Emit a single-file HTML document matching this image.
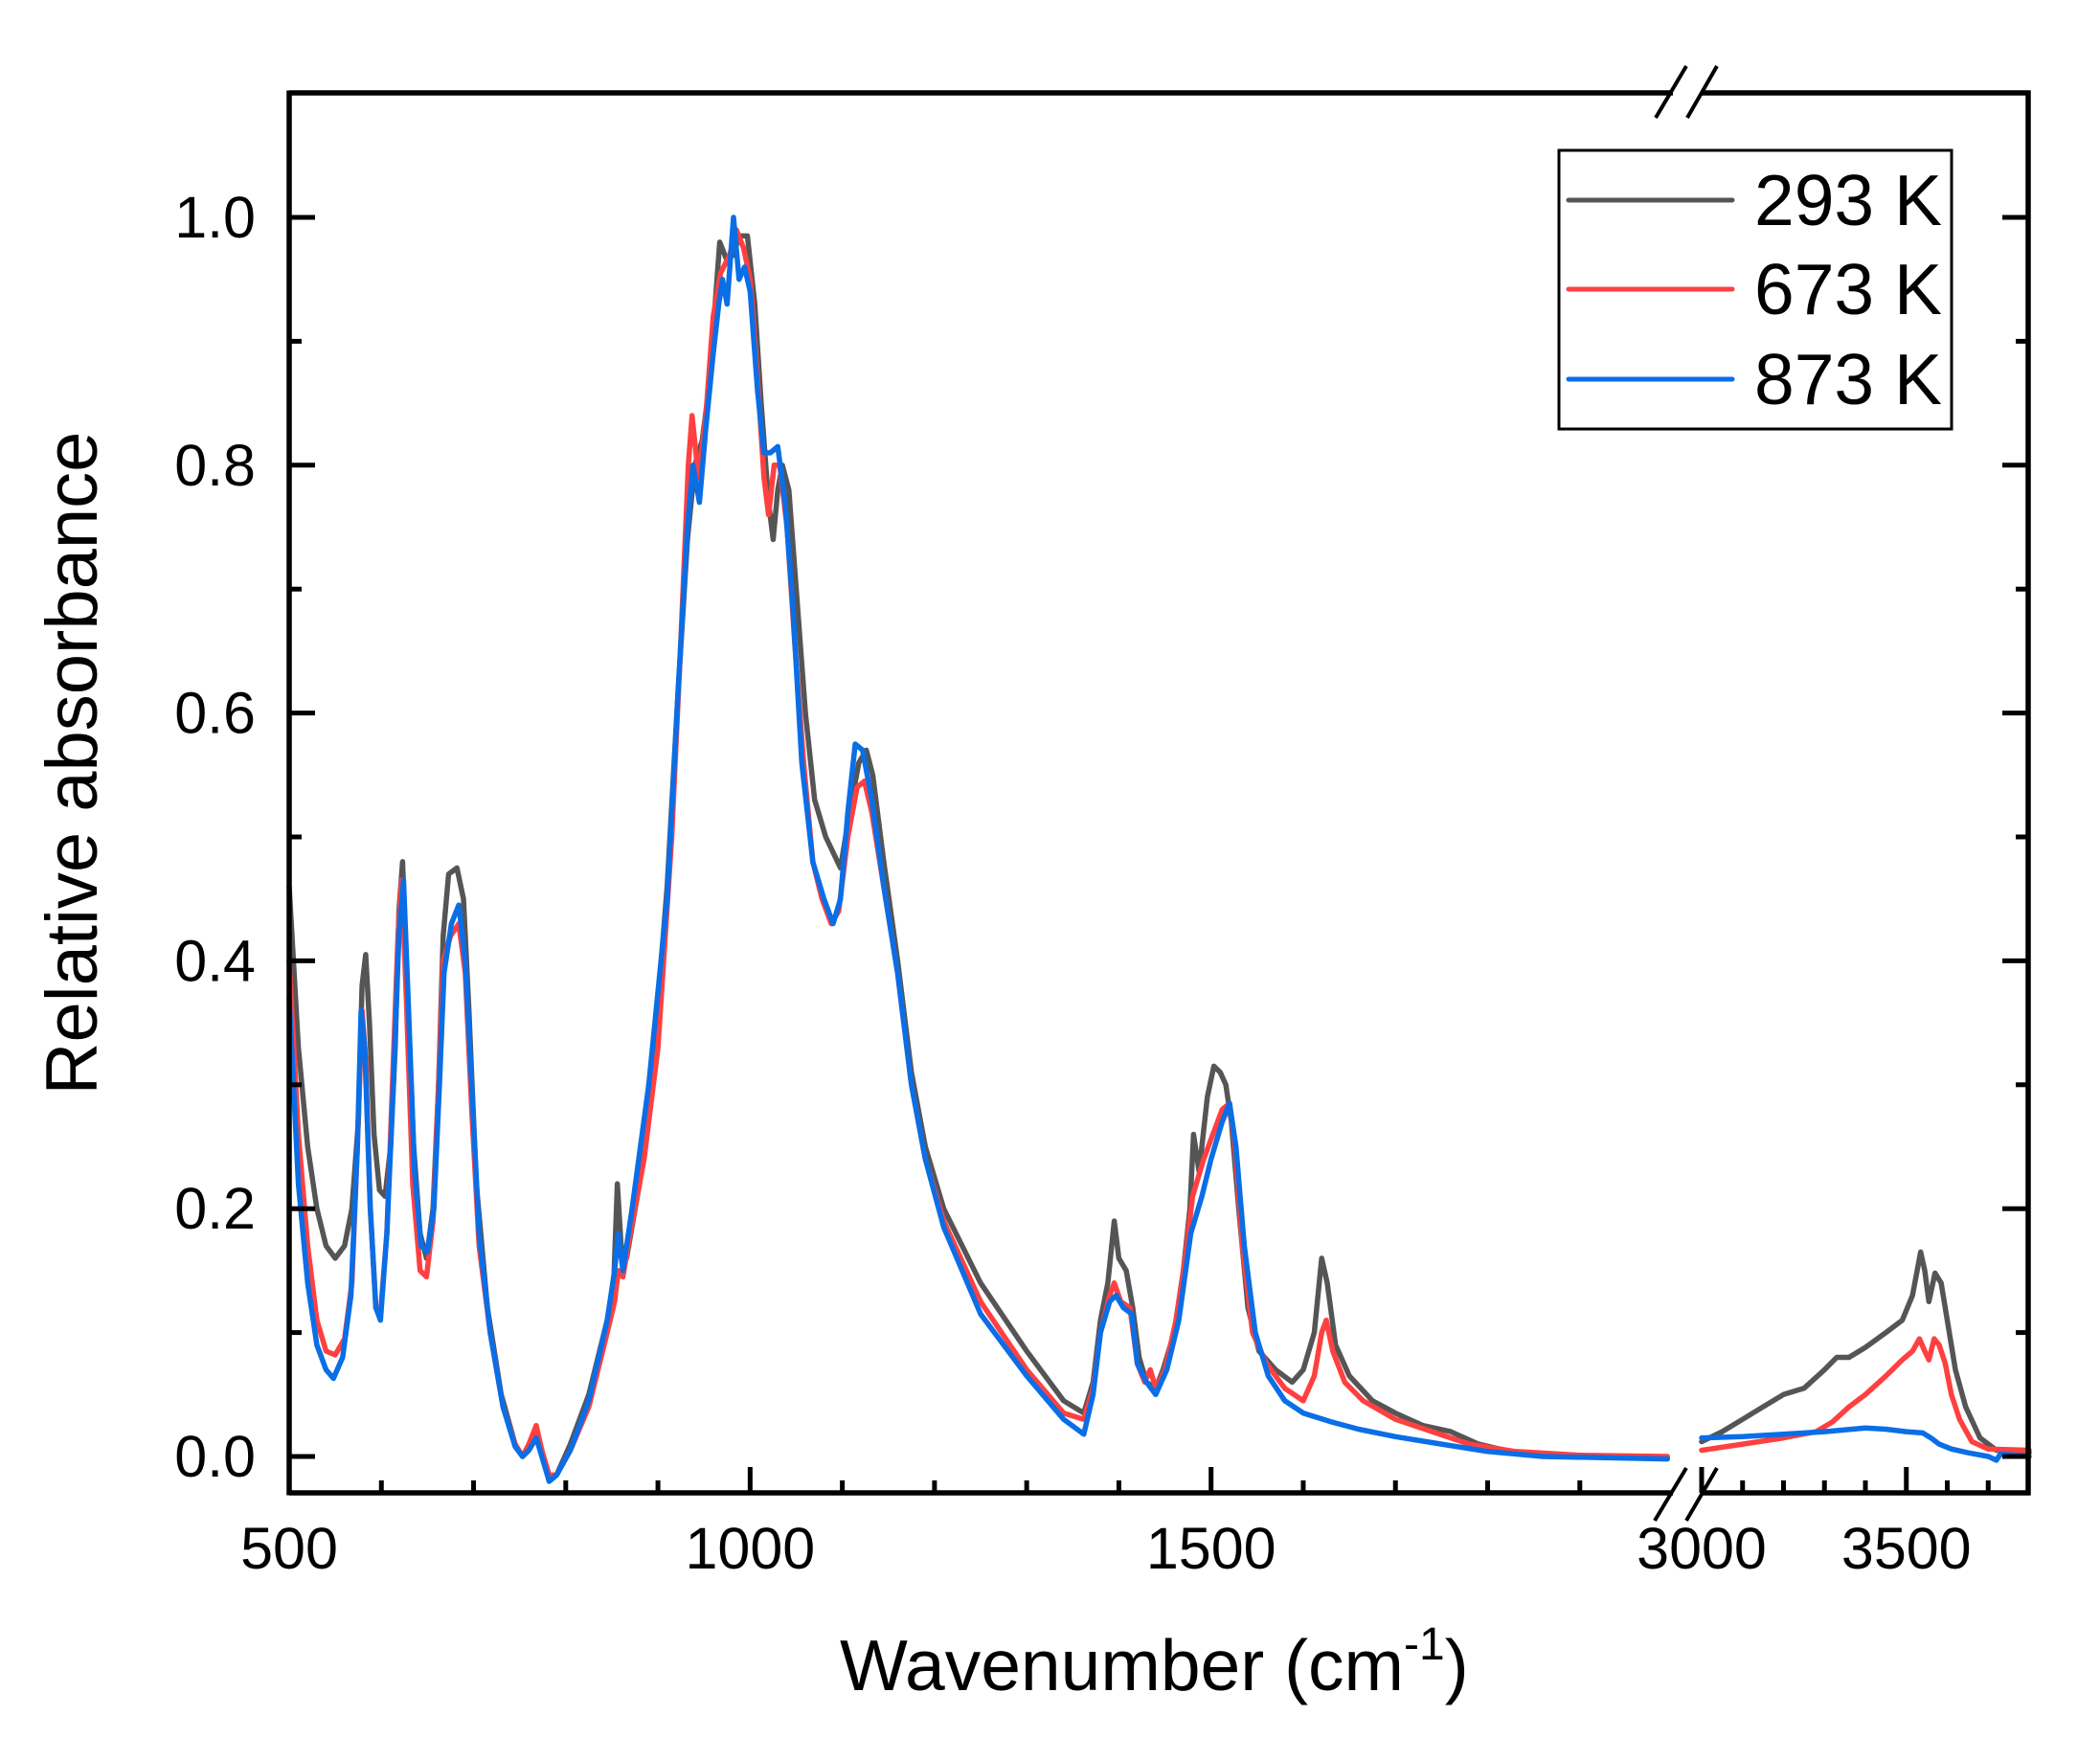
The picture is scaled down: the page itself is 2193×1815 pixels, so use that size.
<!DOCTYPE html>
<html><head><meta charset="utf-8"><style>
html,body{margin:0;padding:0;background:#fff;}
svg{display:block;}
text{font-family:"Liberation Sans",Arial,sans-serif;fill:#000;}
</style></head><body>
<svg id="s" width="2193" height="1815" viewBox="0 0 2193 1815" xmlns="http://www.w3.org/2000/svg">
<rect width="2193" height="1815" fill="#fff"/>
<g id="series" fill="none" stroke-width="5.5" stroke-linejoin="round" stroke-linecap="round"></g>
<g id="axes" stroke="#000" stroke-width="5.5" fill="none"></g>
<g id="labels" font-size="61"></g>
<!-- legend -->
<rect x="1628" y="157" width="410" height="291" fill="#fff" stroke="#000" stroke-width="3"/>
<line x1="1638" y1="209" x2="1809" y2="209" stroke="#555" stroke-width="5" stroke-linecap="round"/>
<line x1="1638" y1="302" x2="1809" y2="302" stroke="#ff4040" stroke-width="5" stroke-linecap="round"/>
<line x1="1638" y1="396" x2="1809" y2="396" stroke="#0a6ee6" stroke-width="5" stroke-linecap="round"/>
<text x="1832" y="235" font-size="75">293 K</text>
<text x="1832" y="328" font-size="75">673 K</text>
<text x="1832" y="422" font-size="75">873 K</text>
<text x="877" y="1765" font-size="75">Wavenumber (cm<tspan font-size="48" dy="-32">-1</tspan><tspan dy="32">)</tspan></text>
<text transform="translate(101,797) rotate(-90)" text-anchor="middle" font-size="76">Relative absorbance</text>
</svg>
<script>
var NS="http://www.w3.org/2000/svg";
function X(w){return w<=2000?302+(w-500)*0.9627:1777+(w-3000)*0.4275;}
function Y(v){return 1521-v*1294;}
function el(p,t,a){var e=document.createElementNS(NS,t);for(var k in a)e.setAttribute(k,a[k]);p.appendChild(e);return e;}
var gray=[[500,.46],[510,.33],[520,.25],[530,.2],[540,.17],[550,.16],[560,.17],[568,.2],[575,.27],[579,.38],[583,.405],[587,.35],[592,.26],[598,.215],[604,.21],[610,.25],[615,.33],[619,.44],[623,.48],[628,.38],[635,.25],[642,.18],[649,.16],[656,.2],[662,.3],[667,.42],[673,.47],[682,.475],[689,.45],[695,.36],[703,.22],[715,.12],[730,.05],[745,.01],[753,0],[760,.005],[768,.02],[774,.005],[782,-.02],[790,-.015],[805,.01],[825,.05],[845,.11],[852,.14],[856,.22],[860,.17],[866,.16],[880,.22],[895,.32],[910,.46],[922,.62],[932,.74],[940,.8],[948,.82],[955,.86],[962,.93],[967,.98],[975,.965],[982,.97],[988,.985],[997,.985],[1005,.93],[1012,.85],[1020,.77],[1025,.74],[1030,.78],[1035,.8],[1042,.78],[1050,.7],[1060,.6],[1070,.53],[1082,.5],[1098,.475],[1108,.52],[1118,.56],[1126,.57],[1133,.55],[1145,.48],[1160,.4],[1175,.31],[1190,.25],[1210,.2],[1250,.14],[1300,.085],[1340,.045],[1362,.035],[1372,.06],[1380,.11],[1388,.14],[1395,.19],[1400,.16],[1408,.15],[1415,.12],[1422,.08],[1430,.06],[1440,.055],[1448,.07],[1460,.1],[1470,.15],[1477,.2],[1481,.26],[1487,.23],[1496,.29],[1503,.315],[1510,.31],[1516,.3],[1522,.27],[1530,.2],[1540,.12],[1552,.085],[1570,.07],[1588,.06],[1600,.07],[1612,.1],[1620,.16],[1626,.14],[1635,.09],[1650,.065],[1675,.045],[1700,.035],[1730,.025],[1760,.02],[1790,.01],[1830,.003],[1900,0],[1995,-.001]];
var grayR=[[3000,.012],[3050,.02],[3100,.03],[3150,.04],[3200,.05],[3250,.055],[3300,.07],[3330,.08],[3360,.08],[3400,.088],[3450,.1],[3490,.11],[3515,.13],[3535,.165],[3545,.15],[3555,.125],[3570,.148],[3585,.14],[3600,.11],[3620,.07],[3645,.04],[3680,.015],[3720,.005],[3800,.003]];
var red=[[500,.4],[510,.26],[520,.17],[530,.11],[540,.085],[550,.082],[560,.095],[568,.14],[574,.25],[579,.36],[583,.32],[588,.2],[594,.12],[599,.115],[606,.18],[613,.32],[618,.42],[622,.465],[627,.37],[634,.22],[642,.15],[649,.145],[656,.19],[662,.3],[667,.4],[675,.42],[684,.43],[691,.39],[698,.28],[706,.17],[718,.1],[732,.04],[745,.01],[753,0],[760,.01],[768,.025],[774,.005],[782,-.015],[790,-.015],[805,.005],[825,.04],[845,.1],[853,.125],[857,.15],[862,.145],[870,.18],[885,.24],[900,.33],[915,.5],[925,.66],[933,.8],[937,.84],[944,.79],[952,.84],[960,.92],[968,.955],[978,.97],[985,.99],[993,.975],[1000,.95],[1008,.87],[1015,.79],[1020,.76],[1026,.8],[1032,.8],[1040,.75],[1048,.66],[1058,.56],[1068,.48],[1078,.45],[1088,.43],[1096,.44],[1106,.5],[1116,.54],[1124,.545],[1132,.52],[1145,.46],[1160,.39],[1175,.3],[1190,.24],[1210,.19],[1250,.125],[1300,.07],[1340,.035],[1362,.03],[1372,.055],[1380,.1],[1390,.13],[1395,.14],[1402,.125],[1412,.12],[1420,.075],[1428,.06],[1434,.07],[1440,.055],[1450,.07],[1462,.11],[1472,.16],[1480,.21],[1492,.24],[1502,.26],[1512,.28],[1520,.285],[1526,.25],[1534,.17],[1545,.1],[1560,.075],[1580,.055],[1600,.045],[1612,.065],[1620,.1],[1625,.11],[1632,.085],[1645,.06],[1665,.045],[1700,.03],[1740,.02],[1780,.01],[1830,.004],[1900,.001],[1995,0]];
var redR=[[3000,.005],[3100,.01],[3200,.015],[3280,.02],[3320,.028],[3360,.04],[3400,.05],[3450,.065],[3490,.078],[3515,.085],[3532,.095],[3545,.085],[3555,.078],[3568,.095],[3580,.09],[3595,.075],[3610,.05],[3630,.03],[3660,.012],[3700,.006],[3800,.005]];
var blue=[[500,.37],[510,.22],[520,.14],[530,.09],[540,.07],[548,.063],[558,.08],[567,.13],[574,.25],[578,.36],[582,.33],[588,.2],[594,.12],[599,.11],[606,.18],[613,.3],[619,.42],[624,.465],[629,.37],[636,.23],[643,.17],[650,.165],[657,.2],[663,.3],[668,.39],[676,.43],[684,.445],[691,.4],[698,.3],[706,.18],[718,.1],[732,.04],[745,.008],[753,0],[760,.005],[768,.015],[774,.0],[782,-.02],[790,-.015],[805,.005],[825,.045],[845,.11],[853,.15],[857,.18],[862,.15],[872,.2],[890,.3],[910,.45],[922,.62],[932,.75],[938,.8],[945,.77],[952,.83],[960,.89],[966,.93],[970,.95],[975,.93],[982,1.0],[988,.95],[994,.96],[1000,.94],[1008,.86],[1015,.81],[1022,.81],[1030,.815],[1038,.77],[1046,.69],[1056,.56],[1068,.48],[1080,.45],[1090,.43],[1098,.45],[1106,.52],[1114,.575],[1122,.57],[1132,.53],[1145,.46],[1160,.39],[1175,.3],[1190,.24],[1210,.185],[1250,.115],[1300,.065],[1340,.03],[1362,.018],[1372,.05],[1380,.1],[1390,.125],[1397,.13],[1405,.12],[1414,.115],[1420,.075],[1430,.06],[1440,.05],[1452,.07],[1465,.11],[1478,.18],[1490,.21],[1500,.24],[1512,.27],[1520,.285],[1527,.25],[1536,.17],[1548,.1],[1562,.065],[1580,.045],[1600,.035],[1630,.028],[1660,.022],[1700,.016],[1750,.01],[1800,.004],[1860,.0],[1995,-.002]];
var blueR=[[3000,.015],[3100,.016],[3200,.018],[3300,.02],[3400,.023],[3450,.022],[3500,.02],[3540,.019],[3560,.015],[3580,.01],[3610,.006],[3650,.003],[3700,.0],[3720,-.003],[3730,.002],[3800,0]];
function pts(a){var s="";for(var i=0;i<a.length;i++){s+=X(a[i][0]).toFixed(1)+","+Y(a[i][1]).toFixed(1)+" ";}return s;}
var g=document.getElementById("series");
[[gray,grayR,"#555555"],[red,redR,"#ff4040"],[blue,blueR,"#0a6ee6"]].forEach(function(s){
 el(g,"polyline",{points:pts(s[0]),stroke:s[2]});
 el(g,"polyline",{points:pts(s[1]),stroke:s[2]});
});
var ax=document.getElementById("axes");
function L(x1,y1,x2,y2,w){el(ax,"line",{x1:x1,y1:y1,x2:x2,y2:y2,"stroke-width":w||5.5});}
var T=97,B=1559,Lx=302,R=2118;
L(Lx,T-2.5,Lx,B+2.5);L(R,T-2.5,R,B+2.5);
L(Lx,T,1747,T);L(1777,T,R+2.5,T);
L(Lx,B,1747,B);L(1777,B,R+2.5,B);
L(1729,123,1761,69,4);L(1762,123,1793,69,4);
L(1728,1588,1761,1533,4);L(1761,1588,1793,1533,4);
L(1777,B,1777,B-27,5);
var lb=document.getElementById("labels");
function tx(x,y,s,anc){var t=el(lb,"text",{x:x,y:y,"text-anchor":anc});t.textContent=s;}
for(var i=0;i<=11;i++){var v=i/10,y=Y(v);var maj=(i%2==0);var len=maj?27:13;
 if(y<T+3)continue;
 L(Lx,y,Lx+len,y,5);L(R,y,R-len,y,5);
 if(maj&&i<=10)tx(267,y+21,v.toFixed(1),"end");}
for(var w=500;w<=1900;w+=100){var x=X(w);var maj=(w%500==0);L(x,B,x,B-(maj?27:13),5);if(maj)tx(x,1638,String(w),"middle");}
for(var w=3000;w<=3700;w+=100){var x=X(w);var maj=(w%500==0);L(x,B,x,B-(maj?27:13),5);if(maj)tx(x,1638,String(w),"middle");}
</script>
</body></html>
